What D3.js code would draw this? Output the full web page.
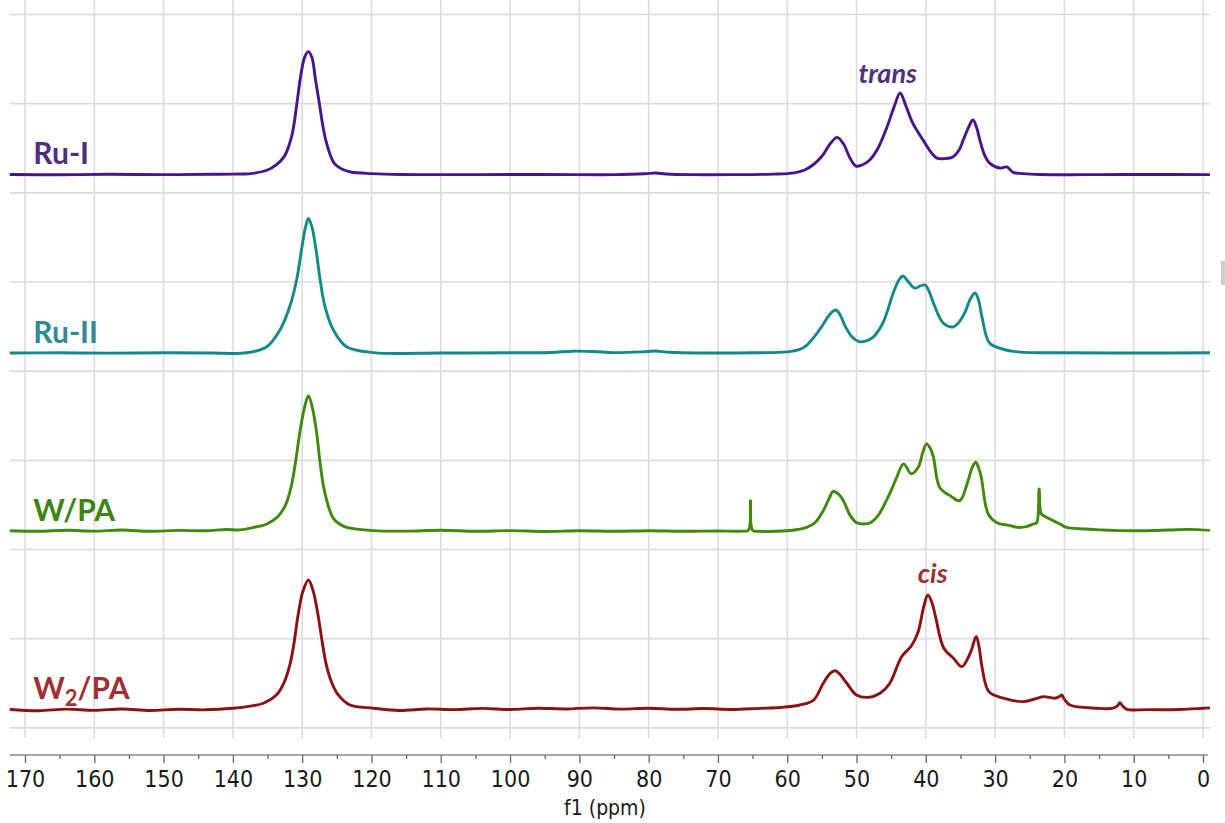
<!DOCTYPE html>
<html>
<head>
<meta charset="utf-8">
<script src="https://cdn.jsdelivr.net/npm/d3@7"></script>
<style>
  html, body { margin: 0; padding: 0; background: #ffffff; }
  svg { display: block; }
</style>
</head>
<body>
<svg id="chart" width="1225" height="823"></svg>
<script>
// ---------------- DATA ----------------
// chemical shift axis (ppm), tick labels
const majorTicks = [170, 160, 150, 140, 130, 120, 110, 100, 90, 80, 70, 60, 50, 40, 30, 20, 10, 0];
const minorTicks = [165, 155, 145, 135, 125, 115, 105, 95, 85, 75, 65, 55, 45, 35, 25, 15, 5];

const seriesNames = ["Ru-I", "Ru-II", "W/PA", "W2/PA"];
// vertical stacking offset of each trace (intensity units)
const stackOffsets = [300, 200, 100, 0];

// [ppm, intensity] pairs, intensity relative to each trace's own baseline
const ruI = [
  [172.2,0.3],[165,0.1],[158,0.4],[150,0.2],[143,0.4],[140,0.5],[137.4,0.8],[135.0,2.8],[133.8,5.5],
  [132.6,10.3],[131.5,22],[130.7,42],[130.2,56],[129.6,66.5],[129.1,69.2],[128.6,66],[128.1,54],
  [127.6,42],[126.6,19.6],[125.4,6.7],[124.2,3.2],[123.0,1.7],[120,0.8],[115.7,0.3],[105,0.2],
  [95,0.3],[85,0.2],[80.5,0.7],[79,1.1],[77.5,0.6],[74,0.2],[68,0.2],[62,0.5],[59,1.2],[57.5,2.8],
  [56.3,5.6],[55,10.5],[53.8,17.5],[52.8,21.1],[51.9,17.5],[51,10],[50.1,5.0],[49.2,5.6],[48.1,8.4],
  [46.9,15],[45.6,26.9],[44.6,38],[43.7,46.0],[42.9,39],[41.9,29.2],[40.4,19.6],[39.3,13],[38.4,9.5],
  [37.2,9.2],[36.1,10.1],[35.2,14],[34.6,19.6],[33.8,27],[33.2,30.8],[32.7,27],[32.2,19.6],[31.5,11],
  [30.8,6.7],[29.3,3.9],[28.3,4.5],[27.4,1.5],[26,0.8],[23.5,0.3],[15,0.2],[8,0.3],[-1,0.2]
];
const ruII = [
  [172.2,0.2],[165,0.3],[158,0.1],[150,0.3],[143,0.2],[138.0,0.3],[135.1,3.7],[133.2,13.1],
  [131.8,26.1],[130.8,41.1],[130.1,58],[129.5,71],[129.1,75.7],[128.6,71],[128.0,58],[127.4,41.1],
  [126.7,26.1],[125.5,13.1],[123.6,3.7],[119.7,0.4],[110,0.2],[100,0.3],[94,0.5],[91,1.2],[88,1.0],
  [85,0.4],[81,0.8],[79,1.3],[77,0.6],[72,0.2],[65,0.3],[60,0.8],[58.2,2.2],[57.2,4.5],[56.2,8.8],
  [55.2,14],[54.3,19.5],[53.6,23],[53.0,24.3],[52.4,21.8],[51.6,15],[50.6,9],[49.6,6.5],[48.6,7],
  [47.6,9.1],[46.2,17.0],[44.7,33.8],[43.9,41],[43.3,43.4],[42.6,40.5],[41.6,36.6],[40.8,37.8],
  [40.1,38.3],[39.5,34.5],[38.9,28.2],[37.5,17.0],[36.1,14.8],[35.2,17.5],[34.4,22.6],[33.5,31],
  [32.9,33.8],[32.4,30],[31.9,20.4],[30.8,5.8],[28.9,2.4],[26.4,0.7],[20,0.3],[10,0.2],[-1,0.3]
];
const wPA = [
  [172.2,0.5],[168,0.2],[164,0.8],[160,0.3],[156,0.9],[152,0.2],[148,0.7],[144,0.5],[141,1.2],
  [139,1.0],[137,2.4],[135.1,4.3],[133.5,8.5],[132.4,15],[131.6,25],[131.0,38.0],[130.3,56.6],
  [129.7,69],[129.1,76.3],[128.5,69],[127.9,55],[127.4,38.0],[126.9,25],[126.2,14],[125.5,7.5],
  [124.5,4],[123.6,2.4],[119.7,0.6],[115,0.3],[110,0.8],[105,0.2],[100,0.6],[95,0.1],[90,0.5],
  [85,0.2],[80,0.5],[75,0.2],[70,0.4],[66.5,0.3],[65.6,0.8],[65.3,17.4],[65.0,0.8],[64,0.2],[60,0.5],
  [58.5,1.2],[57.2,2.4],[56,5],[54.8,11.8],[53.9,19],[53.4,22.6],[52.6,21],[51.9,17.4],[50.9,9],
  [50.0,5],[49.0,4.3],[48,5],[46.9,9],[45.7,17.4],[44.9,24],[44.2,30.5],[43.2,38.0],[42.1,32.4],
  [41.1,36.1],[40.4,45],[39.9,49.2],[39.4,47],[38.9,41.7],[38.0,24.8],[36.5,20.2],[35.1,17.4],
  [33.9,28.6],[33.3,36],[32.8,38.9],[32.4,36],[32.0,30.5],[31.0,9.9],[29.8,5.2],[28,3.5],[26.7,2.4],
  [25.5,2.8],[24.5,4.3],[24.0,5.0],[23.65,23.9],[23.35,10],[22.8,8.5],[22.1,7.1],[20.5,4],
  [19.7,2.4],[17,1.5],[14.9,1.0],[10,0.5],[5,0.9],[2,1.3],[-1,0.7]
];
const w2PA = [
  [172.2,0.3],[168,-0.4],[164,0.5],[160,-0.2],[156,0.6],[152,-0.3],[148,0.4],[144,0.1],[140,1.0],
  [137.5,2.2],[135.6,3.8],[133.7,8.5],[132.6,15.5],[131.8,25],[131.2,37],[130.6,53],[129.9,66.5],
  [129.1,72.9],[128.4,66.5],[127.7,53],[127.1,38],[126.5,25],[125.7,15],[124.8,8.5],[123.1,2.8],
  [119.7,1.0],[116,-0.3],[112,0.6],[108,0.2],[104,0.9],[100,0.3],[96,1.0],[92,0.6],[88,1.2],
  [84,0.5],[80,1.0],[76,0.4],[72,0.8],[68,0.3],[64,0.9],[61,1.4],[58.2,2.8],[56.2,5.6],[54.8,15.0],
  [53.8,20.5],[53.1,22.0],[52.4,20],[51.4,15.0],[50.0,8.4],[48.3,7.1],[46.6,9.4],[45.2,15.0],
  [43.5,29.9],[42.1,35.9],[41.1,43.9],[40.3,58],[39.7,64.5],[39.1,60],[38.6,52.3],[37.4,34.6],
  [36.0,29.0],[34.8,24.3],[33.6,31.8],[32.9,40],[32.7,41.1],[32.3,35],[31.9,24.3],[30.9,10.3],
  [28.8,6.6],[25.9,4.7],[24,6.5],[23.0,7.5],[21.4,6.6],[20.7,7.6],[20.4,8.4],[20.0,6],[19.2,2.8],
  [15.4,1.0],[13.0,1.0],[12.3,2.5],[12.0,4.1],[11.6,2.2],[11.0,0.4],[8,0.2],[3.3,0.3],[0,1.0],
  [-1,1.2]
];
const seriesData = [ruI, ruII, wPA, w2PA];

// annotations: text, ppm position, intensity position
const annoText = ["trans", "cis"];
const annoPpm = [45.5, 39.0];
const annoValue = [351.6, 71.2];

// ---------------- STYLE ----------------
const lineColors = ["#4a148c", "#14898c", "#3f8a0c", "#8b1212"];
const labelColors = ["#4f2d7f", "#2e8a96", "#3d8512", "#9e3131"];
const annoColors = ["#53307f", "#9a3333"];

// ---------------- CHART ----------------
const svg = d3.select("#chart");
const x = d3.scaleLinear().domain([170, 0]).range([25, 1203]);
const y = d3.scaleLinear().domain([0, 300]).range([710, 175]);

// gridlines
const grid = svg.append("g");
grid.selectAll("line.v").data(majorTicks).join("line")
  .attr("x1", d => x(d)).attr("x2", d => x(d))
  .attr("y1", 0).attr("y2", 738)
  .attr("stroke", "#dcdcdc").attr("stroke-width", 1.6);
const hGrid = d3.range(-10, 391, 50);
grid.selectAll("line.h").data(hGrid).join("line")
  .attr("x1", x(172.2)).attr("x2", x(-1))
  .attr("y1", d => y(d)).attr("y2", d => y(d))
  .attr("stroke", "#dcdcdc").attr("stroke-width", 1.6);

// small grey marker at right edge
svg.append("rect").attr("x", 1221).attr("y", 261).attr("width", 5).attr("height", 24)
  .attr("fill", "#cfcfcf");

// traces
const line = d3.line()
  .x(d => x(d[0]))
  .y(d => y(d[1]))
  .curve(d3.curveCatmullRom.alpha(0.5));

seriesData.forEach((data, i) => {
  const pts = data.map(d => [d[0], d[1] + stackOffsets[i]]);
  svg.append("path")
    .attr("d", line(pts))
    .attr("fill", "none")
    .attr("stroke", lineColors[i])
    .attr("stroke-width", 2.9)
    .attr("stroke-linejoin", "round");
});

// series labels
const labelFont = "Lato, 'Open Sans', sans-serif";
seriesNames.forEach((name, i) => {
  const t = svg.append("text")
    .attr("x", x(168.8))
    .attr("y", y(stackOffsets[i] + 6))
    .attr("fill", labelColors[i])
    .attr("font-family", labelFont)
    .attr("font-weight", "bold")
    .attr("font-size", 30);
  if (name === "W2/PA") {
    t.append("tspan").text("W");
    t.append("tspan").attr("font-size", 22).attr("dy", 7).text("2");
    t.append("tspan").attr("dy", -7).text("/PA");
  } else {
    t.text(name);
  }
});

// annotations
annoText.forEach((txt, i) => {
  svg.append("text")
    .attr("x", x(annoPpm[i]))
    .attr("y", y(annoValue[i]))
    .attr("text-anchor", "middle")
    .attr("fill", annoColors[i])
    .attr("font-family", labelFont)
    .attr("font-weight", "bold")
    .attr("font-style", "italic")
    .attr("font-size", 27)
    .text(txt);
});

// x axis
const axisY = 755;
svg.append("line")
  .attr("x1", x(172.2)).attr("x2", x(-0.7))
  .attr("y1", axisY).attr("y2", axisY)
  .attr("stroke", "#8a8a8a").attr("stroke-width", 1.6);

const tickFont = "'Liberation Sans Narrow', 'DejaVu Sans Condensed', 'DejaVu Sans', sans-serif";
const axisMajor = d3.axisBottom(x).tickValues(majorTicks).tickSize(8).tickPadding(8)
  .tickFormat(d3.format("d"));
const gMajor = svg.append("g").attr("transform", `translate(0,${axisY})`).call(axisMajor);
gMajor.select(".domain").remove();
gMajor.selectAll(".tick line").attr("stroke", "#666").attr("stroke-width", 1.3);
gMajor.selectAll(".tick text")
  .attr("fill", "#1a1a1a")
  .attr("font-family", tickFont)
  .attr("font-size", 23);

const axisMinor = d3.axisBottom(x).tickValues(minorTicks).tickSize(4).tickFormat("");
const gMinor = svg.append("g").attr("transform", `translate(0,${axisY})`).call(axisMinor);
gMinor.select(".domain").remove();
gMinor.selectAll(".tick line").attr("stroke", "#666").attr("stroke-width", 1.3);

svg.append("text")
  .attr("x", 605).attr("y", 815)
  .attr("text-anchor", "middle")
  .attr("fill", "#1a1a1a")
  .attr("font-family", tickFont)
  .attr("font-size", 21)
  .text("f1 (ppm)");
</script>
</body>
</html>
